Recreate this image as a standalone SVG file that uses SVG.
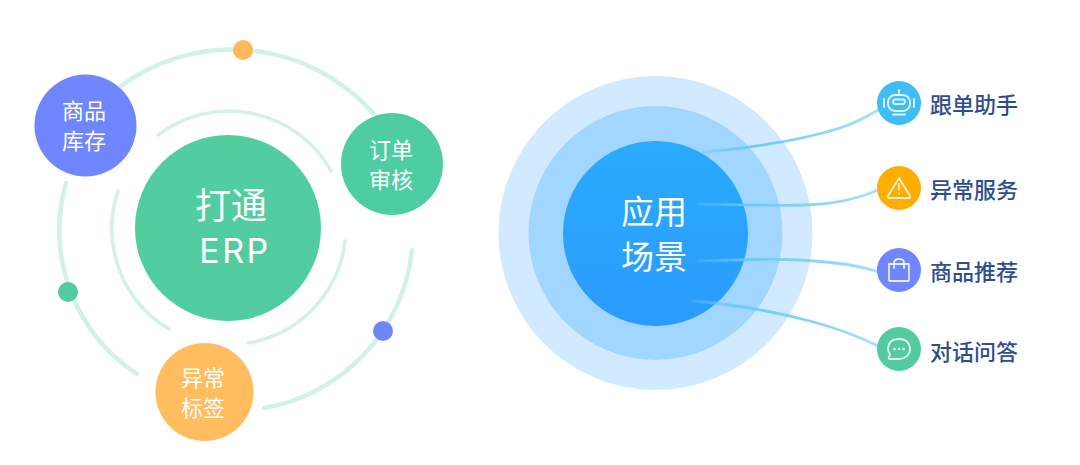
<svg xmlns="http://www.w3.org/2000/svg" width="1080" height="465" viewBox="0 0 1080 465">
<style>
.ring{fill:none;stroke:#d3f2e6;stroke-linecap:round}
.o{stroke-width:4.500}.i{stroke-width:3.500}
text{font-family:"Noto Sans CJK SC","Noto Sans",sans-serif;text-anchor:middle}
.w{fill:#fff}
.n{font-size:22px}
.l{font-size:22px;fill:#2f4e8e;font-weight:500;text-anchor:start}
.ic{fill:none;stroke:#fff;stroke-opacity:.85;stroke-width:1.800;stroke-linejoin:round;stroke-linecap:round}
.cv{fill:none;stroke-width:2.800;stroke-linecap:round}
</style>
<defs>
<linearGradient id="core" x1="0" y1="0" x2="0" y2="1"><stop offset="0" stop-color="#29abfb"/><stop offset="1" stop-color="#2b9bff"/></linearGradient>
<linearGradient id="c1" gradientUnits="userSpaceOnUse" x1="700" y1="150" x2="878" y2="110"><stop offset="0" stop-color="#5cc2fc" stop-opacity=".35"/><stop offset=".3" stop-color="#6ccafd"/><stop offset="1" stop-color="#a6e0fd"/></linearGradient>
<linearGradient id="c2" gradientUnits="userSpaceOnUse" x1="698" y1="204" x2="878" y2="190"><stop offset="0" stop-color="#5cc2fc" stop-opacity=".35"/><stop offset=".3" stop-color="#6ccafd"/><stop offset="1" stop-color="#a6e0fd"/></linearGradient>
<linearGradient id="c3" gradientUnits="userSpaceOnUse" x1="698" y1="261" x2="878" y2="272"><stop offset="0" stop-color="#5cc2fc" stop-opacity=".35"/><stop offset=".3" stop-color="#6ccafd"/><stop offset="1" stop-color="#a6e0fd"/></linearGradient>
<linearGradient id="c4" gradientUnits="userSpaceOnUse" x1="693" y1="301" x2="878" y2="346"><stop offset="0" stop-color="#5cc2fc" stop-opacity=".35"/><stop offset=".3" stop-color="#6ccafd"/><stop offset="1" stop-color="#a6e0fd"/></linearGradient>
</defs>

<g id="orbits">
<path class="ring o" d="M121 86A188 188 0 0 1 373 113"/>
<path class="ring o" d="M412 250A179 179 0 0 1 264 408"/>
<path class="ring o" d="M137 374A172 172 0 0 1 66 183"/>
<path class="ring i" d="M158 135A117 117 0 0 1 331 171"/>
<path class="ring i" d="M345 241A117 117 0 0 1 248 343"/>
<path class="ring i" d="M169 329A117 117 0 0 1 118 191"/>
</g>
<g id="dot-orange"><circle cx="243" cy="50" r="10" fill="#ffb85c"/></g>
<g id="dot-green"><circle cx="68" cy="292" r="10" fill="#52cc9f"/></g>
<g id="dot-blue"><circle cx="383" cy="331" r="10" fill="#6f86ff"/></g>

<g id="node-erp"><circle cx="228" cy="228" r="93" fill="#52cda0"/>
<text class="w" x="231" y="219" font-size="36">打通</text>
<text class="w" x="235" y="263" font-size="34" letter-spacing="2.500" style="font-family:Inter,'Noto Sans',sans-serif">ERP</text></g>
<g id="node-stock"><circle cx="85.500" cy="125.500" r="51" fill="#6f86ff"/>
<text class="w n" x="84" y="119">商品</text><text class="w n" x="84" y="149">库存</text></g>
<g id="node-order"><circle cx="392" cy="164" r="51" fill="#4fcda2"/>
<text class="w n" x="391" y="158">订单</text><text class="w n" x="391" y="188">审核</text></g>
<g id="node-tag"><circle cx="204.500" cy="392" r="49" fill="#ffbd60"/>
<text class="w n" x="203" y="386">异常</text><text class="w n" x="203" y="416">标签</text></g>

<g id="node-scene"><circle cx="655.500" cy="233" r="157" fill="#d1eaff"/><circle cx="655.500" cy="233" r="127" fill="#a0d6ff"/><circle cx="655.500" cy="233.500" r="92.500" fill="url(#core)"/>
<text class="w" x="654" y="224" font-size="33">应用</text><text class="w" x="654" y="269" font-size="33">场景</text></g>

<g id="connectors">
<path class="cv" stroke="url(#c1)" d="M703 152C770 146 815 136 840 128C855 123 868 116 878 110"/>
<path class="cv" stroke="url(#c2)" d="M698 204C745 205 780 206 805 205C835 204 860 198 878 190"/>
<path class="cv" stroke="url(#c3)" d="M698 261C740 260 770 258 800 260C835 262 860 265 878 272"/>
<path class="cv" stroke="url(#c4)" d="M693 301C740 305 780 313 810 321C840 329 862 338 878 346"/>
</g>

<g id="item-bot"><circle cx="899" cy="103" r="22" fill="#3fbdf5"/>
<g class="ic"><rect x="888" y="95" width="22" height="16" rx="7"/><rect x="893" y="99.500" width="12" height="4.500" rx="2.200"/><path d="M899 95V91M884 99V107M914 99V107M893 114.500H905"/></g>
<circle cx="899" cy="90.500" r="1.200" fill="#fff"/>
<text class="l" x="930" y="113">跟单助手</text></g>
<g id="item-alert"><circle cx="899" cy="188" r="22" fill="#ffae00"/>
<path class="ic" d="M899 178L910 196Q910.500 198 908.500 198H889.500Q887.500 198 888 196Z"/><path class="ic" d="M899 184V190M899 193.500V194"/>
<text class="l" x="930" y="198">异常服务</text></g>
<g id="item-bag"><circle cx="899" cy="270" r="22" fill="#6f86ff"/>
<path class="ic" d="M889 264H909V280Q909 281 908 281H890Q889 281 889 280Z"/><path class="ic" d="M894 268V263Q894 259 899 259Q904 259 904 263V268"/>
<text class="l" x="930" y="280">商品推荐</text></g>
<g id="item-chat"><circle cx="899" cy="349" r="22" fill="#52cc9f"/>
<path class="ic" d="M899 339C906 339 910 343 910 349C910 355 905 359 899 359H890Q888 359 889 357L890 354C888.500 352 888 351 888 349C888 343 892 339 899 339Z"/>
<circle cx="894.500" cy="349" r="1.300" fill="#fff"/><circle cx="899" cy="349" r="1.300" fill="#fff"/><circle cx="903.500" cy="349" r="1.300" fill="#fff"/>
<text class="l" x="930" y="360">对话问答</text></g>
</svg>
